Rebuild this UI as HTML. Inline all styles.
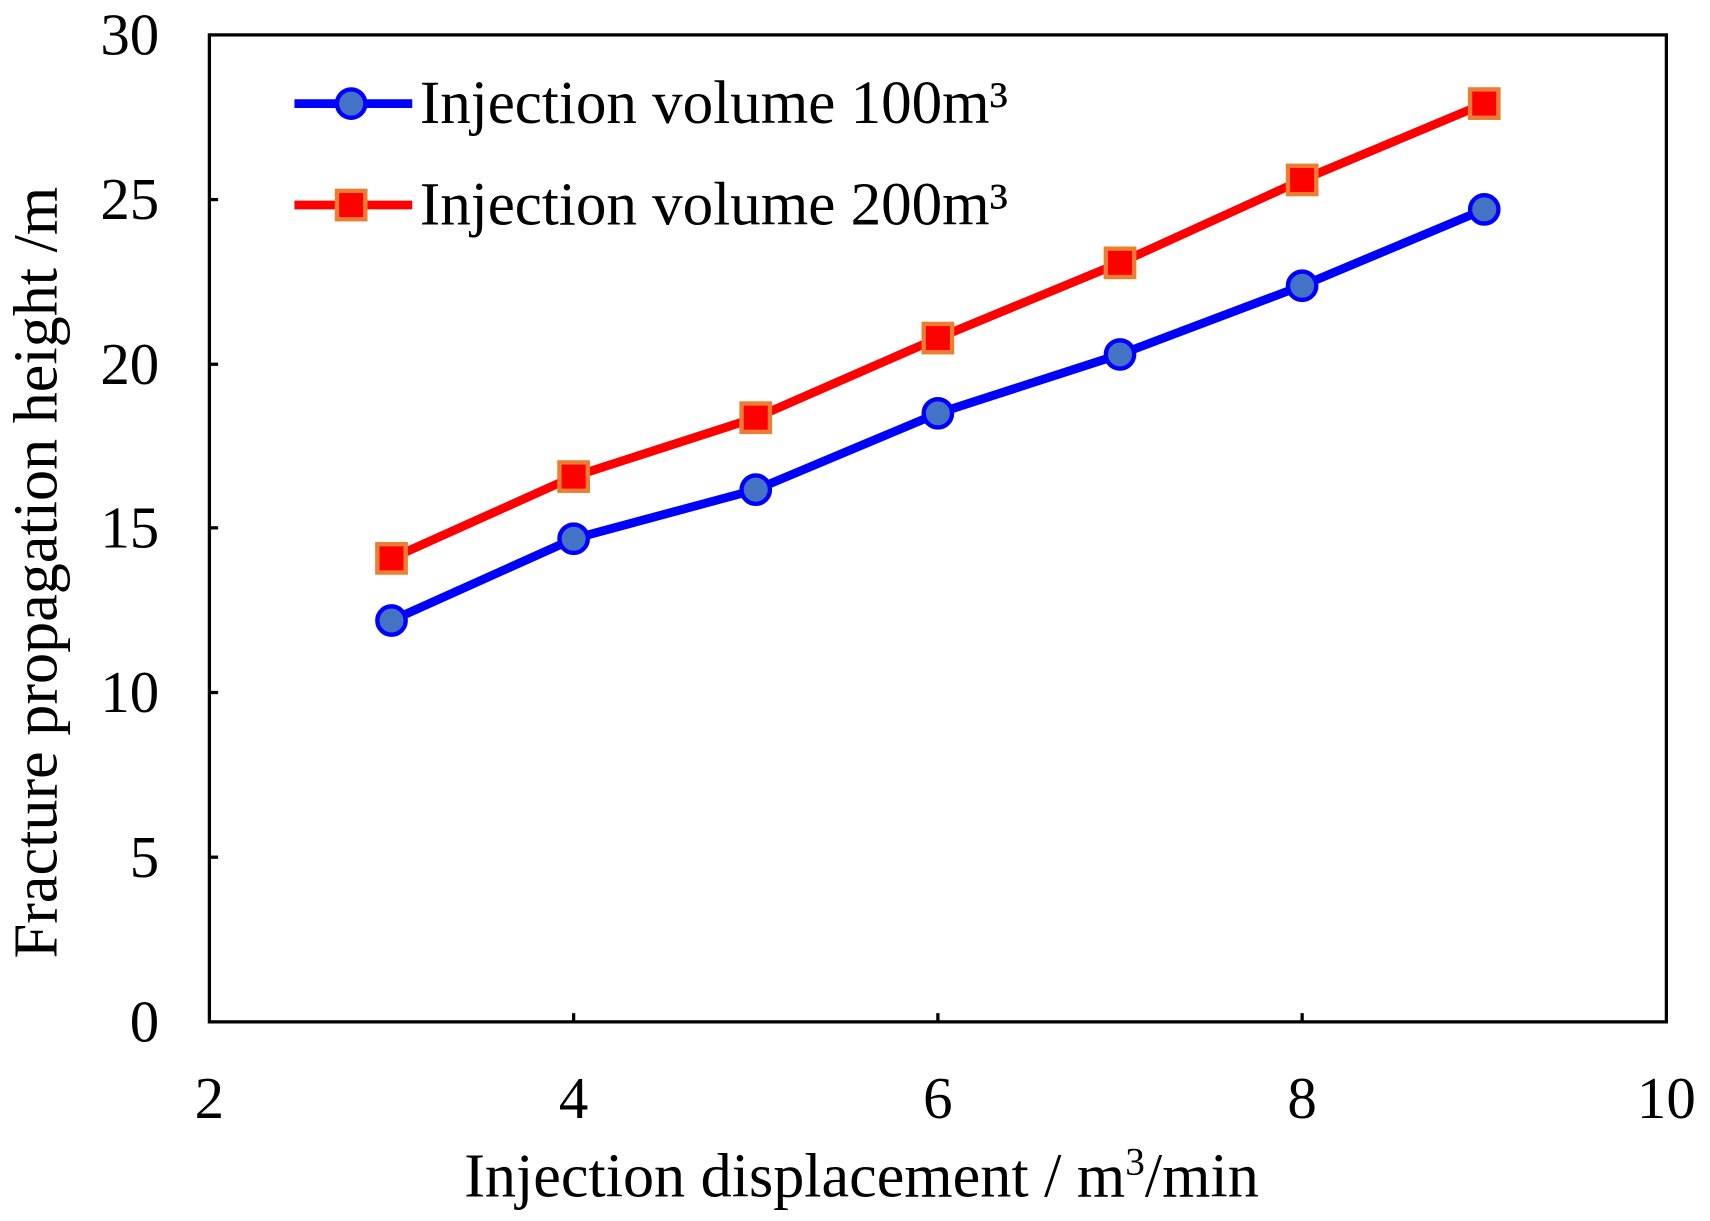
<!DOCTYPE html>
<html><head><meta charset="utf-8"><style>html,body{margin:0;padding:0;background:#fff}svg{display:block}</style></head>
<body>
<svg width="1710" height="1221" viewBox="0 0 1568 1119.6" preserveAspectRatio="none" xmlns="http://www.w3.org/2000/svg" font-family="Liberation Serif, serif">
<rect x="192" y="32" width="1336" height="905" fill="none" stroke="#000" stroke-width="3"/>
<g stroke="#000" stroke-width="3">
<line x1="526" y1="937" x2="526" y2="929"/><line x1="860" y1="937" x2="860" y2="929"/><line x1="1194" y1="937" x2="1194" y2="929"/>
<line x1="192" y1="786" x2="200" y2="786"/><line x1="192" y1="635" x2="200" y2="635"/><line x1="192" y1="484" x2="200" y2="484"/><line x1="192" y1="334" x2="200" y2="334"/><line x1="192" y1="183" x2="200" y2="183"/>
</g>
<g font-size="54" text-anchor="end">
<text x="146" y="955">0</text><text x="146" y="804">5</text><text x="146" y="653">10</text><text x="146" y="502">15</text><text x="146" y="352">20</text><text x="146" y="201">25</text><text x="146" y="50">30</text>
</g>
<g font-size="54" text-anchor="middle">
<text x="192" y="1025">2</text><text x="526" y="1025">4</text><text x="860" y="1025">6</text><text x="1194" y="1025">8</text><text x="1528" y="1025">10</text>
</g>
<text x="790" y="1097" font-size="57" text-anchor="middle">Injection displacement / m<tspan dy="-20" font-size="36">3</tspan><tspan dy="20">/min</tspan></text>
<text transform="translate(52,525) rotate(-90)" font-size="57" text-anchor="middle">Fracture propagation height /m</text>
<polyline fill="none" stroke="#0000ff" stroke-width="8" stroke-linejoin="round" points="359,569 526,494 693,449 860,379 1027,325 1194,262 1361,192"/>
<polyline fill="none" stroke="#ff0000" stroke-width="8" stroke-linejoin="round" points="359,512 526,437 693,383 860,310 1027,241 1194,165 1361,95"/>
<g fill="#4472c4" stroke="#0000ff" stroke-width="4">
<circle cx="359" cy="569" r="13"/><circle cx="526" cy="494" r="13"/><circle cx="693" cy="449" r="13"/><circle cx="860" cy="379" r="13"/><circle cx="1027" cy="325" r="13"/><circle cx="1194" cy="262" r="13"/><circle cx="1361" cy="192" r="13"/>
</g>
<g fill="#ff0000" stroke="#ed7d31" stroke-width="4">
<rect x="346" y="499" width="26" height="26"/><rect x="513" y="424" width="26" height="26"/><rect x="680" y="370" width="26" height="26"/><rect x="847" y="297" width="26" height="26"/><rect x="1014" y="228" width="26" height="26"/><rect x="1181" y="152" width="26" height="26"/><rect x="1348" y="82" width="26" height="26"/>
</g>
<line x1="270" y1="95" x2="378" y2="95" stroke="#0000ff" stroke-width="8"/>
<circle cx="322" cy="95" r="13" fill="#4472c4" stroke="#0000ff" stroke-width="4"/>
<line x1="270" y1="188" x2="378" y2="188" stroke="#ff0000" stroke-width="8"/>
<rect x="309" y="175" width="26" height="26" fill="#ff0000" stroke="#ed7d31" stroke-width="4"/>
<text x="385" y="113" font-size="56">Injection volume 100m³</text>
<text x="385" y="206" font-size="56">Injection volume 200m³</text>
</svg>
</body></html>
